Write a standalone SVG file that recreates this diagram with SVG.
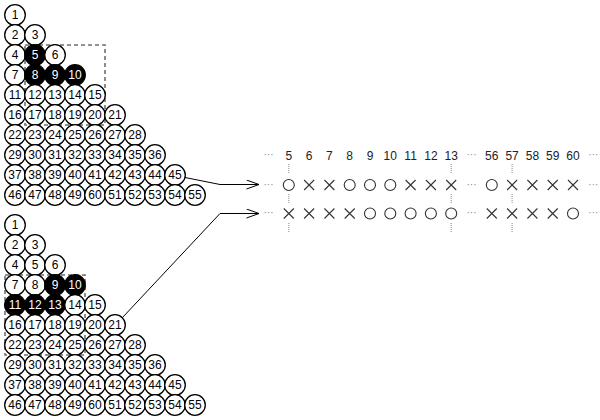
<svg xmlns="http://www.w3.org/2000/svg" xmlns:xlink="http://www.w3.org/1999/xlink" width="600" height="420" viewBox="0 0 600 420">
<style>
.n circle{fill:#fff;stroke:#000;stroke-width:1.3}
.n text{fill:#000}
.b circle{fill:#000;stroke:#000;stroke-width:1.3}
.b text{fill:#fff}
text{font-family:"Liberation Sans",Arial,sans-serif;font-size:12px;text-anchor:middle}
.win{fill:none;stroke:#707070;stroke-width:1.6;stroke-dasharray:4 3}
.conn{fill:none;stroke:#000;stroke-width:1}
text.lab{font-size:12px;fill:#222}
text.ell{font-size:10px;fill:#888;stroke:none}
.sym use{fill:none;stroke:#333;stroke-width:1.1}
.dot{stroke:#888;stroke-width:1;stroke-dasharray:1 1}
</style>
<defs>
<marker id="ah" markerWidth="14" markerHeight="12" refX="13" refY="5" orient="auto" markerUnits="userSpaceOnUse">
<path d="M0.5,0.5 L13,5 L0.5,9.5" fill="none" stroke="#000" stroke-width="1"/>
</marker>
<path id="x" d="M-5,-5L5,5M5,-5L-5,5"/>
<circle id="o" r="5.5"/>
</defs>

<g id="windows">
<rect class="win" x="25" y="45" width="80" height="80"/>
<rect class="win" x="5" y="275" width="80" height="80"/>
</g>

<g id="triangleA">
<g id="a1" class="n"><circle cx="15" cy="15" r="10.3"/><text x="15" y="19.2">1</text></g>
<g id="a2" class="n"><circle cx="15" cy="35" r="10.3"/><text x="15" y="39.2">2</text></g>
<g id="a3" class="n"><circle cx="35" cy="35" r="10.3"/><text x="35" y="39.2">3</text></g>
<g id="a4" class="n"><circle cx="15" cy="55" r="10.3"/><text x="15" y="59.2">4</text></g>
<g id="a5" class="b"><circle cx="35" cy="55" r="10.3"/><text x="35" y="59.2">5</text></g>
<g id="a6" class="n"><circle cx="55" cy="55" r="10.3"/><text x="55" y="59.2">6</text></g>
<g id="a7" class="n"><circle cx="15" cy="75" r="10.3"/><text x="15" y="79.2">7</text></g>
<g id="a8" class="b"><circle cx="35" cy="75" r="10.3"/><text x="35" y="79.2">8</text></g>
<g id="a9" class="b"><circle cx="55" cy="75" r="10.3"/><text x="55" y="79.2">9</text></g>
<g id="a10" class="b"><circle cx="75" cy="75" r="10.3"/><text x="75" y="79.2">10</text></g>
<g id="a11" class="n"><circle cx="15" cy="95" r="10.3"/><text x="15" y="99.2">11</text></g>
<g id="a12" class="n"><circle cx="35" cy="95" r="10.3"/><text x="35" y="99.2">12</text></g>
<g id="a13" class="n"><circle cx="55" cy="95" r="10.3"/><text x="55" y="99.2">13</text></g>
<g id="a14" class="n"><circle cx="75" cy="95" r="10.3"/><text x="75" y="99.2">14</text></g>
<g id="a15" class="n"><circle cx="95" cy="95" r="10.3"/><text x="95" y="99.2">15</text></g>
<g id="a16" class="n"><circle cx="15" cy="115" r="10.3"/><text x="15" y="119.2">16</text></g>
<g id="a17" class="n"><circle cx="35" cy="115" r="10.3"/><text x="35" y="119.2">17</text></g>
<g id="a18" class="n"><circle cx="55" cy="115" r="10.3"/><text x="55" y="119.2">18</text></g>
<g id="a19" class="n"><circle cx="75" cy="115" r="10.3"/><text x="75" y="119.2">19</text></g>
<g id="a20" class="n"><circle cx="95" cy="115" r="10.3"/><text x="95" y="119.2">20</text></g>
<g id="a21" class="n"><circle cx="115" cy="115" r="10.3"/><text x="115" y="119.2">21</text></g>
<g id="a22" class="n"><circle cx="15" cy="135" r="10.3"/><text x="15" y="139.2">22</text></g>
<g id="a23" class="n"><circle cx="35" cy="135" r="10.3"/><text x="35" y="139.2">23</text></g>
<g id="a24" class="n"><circle cx="55" cy="135" r="10.3"/><text x="55" y="139.2">24</text></g>
<g id="a25" class="n"><circle cx="75" cy="135" r="10.3"/><text x="75" y="139.2">25</text></g>
<g id="a26" class="n"><circle cx="95" cy="135" r="10.3"/><text x="95" y="139.2">26</text></g>
<g id="a27" class="n"><circle cx="115" cy="135" r="10.3"/><text x="115" y="139.2">27</text></g>
<g id="a28" class="n"><circle cx="135" cy="135" r="10.3"/><text x="135" y="139.2">28</text></g>
<g id="a29" class="n"><circle cx="15" cy="155" r="10.3"/><text x="15" y="159.2">29</text></g>
<g id="a30" class="n"><circle cx="35" cy="155" r="10.3"/><text x="35" y="159.2">30</text></g>
<g id="a31" class="n"><circle cx="55" cy="155" r="10.3"/><text x="55" y="159.2">31</text></g>
<g id="a32" class="n"><circle cx="75" cy="155" r="10.3"/><text x="75" y="159.2">32</text></g>
<g id="a33" class="n"><circle cx="95" cy="155" r="10.3"/><text x="95" y="159.2">33</text></g>
<g id="a34" class="n"><circle cx="115" cy="155" r="10.3"/><text x="115" y="159.2">34</text></g>
<g id="a35" class="n"><circle cx="135" cy="155" r="10.3"/><text x="135" y="159.2">35</text></g>
<g id="a36" class="n"><circle cx="155" cy="155" r="10.3"/><text x="155" y="159.2">36</text></g>
<g id="a37" class="n"><circle cx="15" cy="175" r="10.3"/><text x="15" y="179.2">37</text></g>
<g id="a38" class="n"><circle cx="35" cy="175" r="10.3"/><text x="35" y="179.2">38</text></g>
<g id="a39" class="n"><circle cx="55" cy="175" r="10.3"/><text x="55" y="179.2">39</text></g>
<g id="a40" class="n"><circle cx="75" cy="175" r="10.3"/><text x="75" y="179.2">40</text></g>
<g id="a41" class="n"><circle cx="95" cy="175" r="10.3"/><text x="95" y="179.2">41</text></g>
<g id="a42" class="n"><circle cx="115" cy="175" r="10.3"/><text x="115" y="179.2">42</text></g>
<g id="a43" class="n"><circle cx="135" cy="175" r="10.3"/><text x="135" y="179.2">43</text></g>
<g id="a44" class="n"><circle cx="155" cy="175" r="10.3"/><text x="155" y="179.2">44</text></g>
<g id="a45" class="n"><circle cx="175" cy="175" r="10.3"/><text x="175" y="179.2">45</text></g>
<g id="a46" class="n"><circle cx="15" cy="195" r="10.3"/><text x="15" y="199.2">46</text></g>
<g id="a47" class="n"><circle cx="35" cy="195" r="10.3"/><text x="35" y="199.2">47</text></g>
<g id="a48" class="n"><circle cx="55" cy="195" r="10.3"/><text x="55" y="199.2">48</text></g>
<g id="a49" class="n"><circle cx="75" cy="195" r="10.3"/><text x="75" y="199.2">49</text></g>
<g id="a50" class="n"><circle cx="95" cy="195" r="10.3"/><text x="95" y="199.2">60</text></g>
<g id="a51" class="n"><circle cx="115" cy="195" r="10.3"/><text x="115" y="199.2">51</text></g>
<g id="a52" class="n"><circle cx="135" cy="195" r="10.3"/><text x="135" y="199.2">52</text></g>
<g id="a53" class="n"><circle cx="155" cy="195" r="10.3"/><text x="155" y="199.2">53</text></g>
<g id="a54" class="n"><circle cx="175" cy="195" r="10.3"/><text x="175" y="199.2">54</text></g>
<g id="a55" class="n"><circle cx="195" cy="195" r="10.3"/><text x="195" y="199.2">55</text></g>
</g>

<g id="triangleB">
<g id="b1" class="n"><circle cx="15" cy="225" r="10.3"/><text x="15" y="229.2">1</text></g>
<g id="b2" class="n"><circle cx="15" cy="245" r="10.3"/><text x="15" y="249.2">2</text></g>
<g id="b3" class="n"><circle cx="35" cy="245" r="10.3"/><text x="35" y="249.2">3</text></g>
<g id="b4" class="n"><circle cx="15" cy="265" r="10.3"/><text x="15" y="269.2">4</text></g>
<g id="b5" class="n"><circle cx="35" cy="265" r="10.3"/><text x="35" y="269.2">5</text></g>
<g id="b6" class="n"><circle cx="55" cy="265" r="10.3"/><text x="55" y="269.2">6</text></g>
<g id="b7" class="n"><circle cx="15" cy="285" r="10.3"/><text x="15" y="289.2">7</text></g>
<g id="b8" class="n"><circle cx="35" cy="285" r="10.3"/><text x="35" y="289.2">8</text></g>
<g id="b9" class="b"><circle cx="55" cy="285" r="10.3"/><text x="55" y="289.2">9</text></g>
<g id="b10" class="b"><circle cx="75" cy="285" r="10.3"/><text x="75" y="289.2">10</text></g>
<g id="b11" class="b"><circle cx="15" cy="305" r="10.3"/><text x="15" y="309.2">11</text></g>
<g id="b12" class="b"><circle cx="35" cy="305" r="10.3"/><text x="35" y="309.2">12</text></g>
<g id="b13" class="b"><circle cx="55" cy="305" r="10.3"/><text x="55" y="309.2">13</text></g>
<g id="b14" class="n"><circle cx="75" cy="305" r="10.3"/><text x="75" y="309.2">14</text></g>
<g id="b15" class="n"><circle cx="95" cy="305" r="10.3"/><text x="95" y="309.2">15</text></g>
<g id="b16" class="n"><circle cx="15" cy="325" r="10.3"/><text x="15" y="329.2">16</text></g>
<g id="b17" class="n"><circle cx="35" cy="325" r="10.3"/><text x="35" y="329.2">17</text></g>
<g id="b18" class="n"><circle cx="55" cy="325" r="10.3"/><text x="55" y="329.2">18</text></g>
<g id="b19" class="n"><circle cx="75" cy="325" r="10.3"/><text x="75" y="329.2">19</text></g>
<g id="b20" class="n"><circle cx="95" cy="325" r="10.3"/><text x="95" y="329.2">20</text></g>
<g id="b21" class="n"><circle cx="115" cy="325" r="10.3"/><text x="115" y="329.2">21</text></g>
<g id="b22" class="n"><circle cx="15" cy="345" r="10.3"/><text x="15" y="349.2">22</text></g>
<g id="b23" class="n"><circle cx="35" cy="345" r="10.3"/><text x="35" y="349.2">23</text></g>
<g id="b24" class="n"><circle cx="55" cy="345" r="10.3"/><text x="55" y="349.2">24</text></g>
<g id="b25" class="n"><circle cx="75" cy="345" r="10.3"/><text x="75" y="349.2">25</text></g>
<g id="b26" class="n"><circle cx="95" cy="345" r="10.3"/><text x="95" y="349.2">26</text></g>
<g id="b27" class="n"><circle cx="115" cy="345" r="10.3"/><text x="115" y="349.2">27</text></g>
<g id="b28" class="n"><circle cx="135" cy="345" r="10.3"/><text x="135" y="349.2">28</text></g>
<g id="b29" class="n"><circle cx="15" cy="365" r="10.3"/><text x="15" y="369.2">29</text></g>
<g id="b30" class="n"><circle cx="35" cy="365" r="10.3"/><text x="35" y="369.2">30</text></g>
<g id="b31" class="n"><circle cx="55" cy="365" r="10.3"/><text x="55" y="369.2">31</text></g>
<g id="b32" class="n"><circle cx="75" cy="365" r="10.3"/><text x="75" y="369.2">32</text></g>
<g id="b33" class="n"><circle cx="95" cy="365" r="10.3"/><text x="95" y="369.2">33</text></g>
<g id="b34" class="n"><circle cx="115" cy="365" r="10.3"/><text x="115" y="369.2">34</text></g>
<g id="b35" class="n"><circle cx="135" cy="365" r="10.3"/><text x="135" y="369.2">35</text></g>
<g id="b36" class="n"><circle cx="155" cy="365" r="10.3"/><text x="155" y="369.2">36</text></g>
<g id="b37" class="n"><circle cx="15" cy="385" r="10.3"/><text x="15" y="389.2">37</text></g>
<g id="b38" class="n"><circle cx="35" cy="385" r="10.3"/><text x="35" y="389.2">38</text></g>
<g id="b39" class="n"><circle cx="55" cy="385" r="10.3"/><text x="55" y="389.2">39</text></g>
<g id="b40" class="n"><circle cx="75" cy="385" r="10.3"/><text x="75" y="389.2">40</text></g>
<g id="b41" class="n"><circle cx="95" cy="385" r="10.3"/><text x="95" y="389.2">41</text></g>
<g id="b42" class="n"><circle cx="115" cy="385" r="10.3"/><text x="115" y="389.2">42</text></g>
<g id="b43" class="n"><circle cx="135" cy="385" r="10.3"/><text x="135" y="389.2">43</text></g>
<g id="b44" class="n"><circle cx="155" cy="385" r="10.3"/><text x="155" y="389.2">44</text></g>
<g id="b45" class="n"><circle cx="175" cy="385" r="10.3"/><text x="175" y="389.2">45</text></g>
<g id="b46" class="n"><circle cx="15" cy="405" r="10.3"/><text x="15" y="409.2">46</text></g>
<g id="b47" class="n"><circle cx="35" cy="405" r="10.3"/><text x="35" y="409.2">47</text></g>
<g id="b48" class="n"><circle cx="55" cy="405" r="10.3"/><text x="55" y="409.2">48</text></g>
<g id="b49" class="n"><circle cx="75" cy="405" r="10.3"/><text x="75" y="409.2">49</text></g>
<g id="b50" class="n"><circle cx="95" cy="405" r="10.3"/><text x="95" y="409.2">60</text></g>
<g id="b51" class="n"><circle cx="115" cy="405" r="10.3"/><text x="115" y="409.2">51</text></g>
<g id="b52" class="n"><circle cx="135" cy="405" r="10.3"/><text x="135" y="409.2">52</text></g>
<g id="b53" class="n"><circle cx="155" cy="405" r="10.3"/><text x="155" y="409.2">53</text></g>
<g id="b54" class="n"><circle cx="175" cy="405" r="10.3"/><text x="175" y="409.2">54</text></g>
<g id="b55" class="n"><circle cx="195" cy="405" r="10.3"/><text x="195" y="409.2">55</text></g>
</g>

<g id="connectors">
<polyline class="conn" points="185,177.5 220,184.5 259,184.5" marker-end="url(#ah)"/>
<polyline class="conn" points="122.5,317.5 220,213.5 259,213.5" marker-end="url(#ah)"/>
</g>

<g id="sequence">
<g id="header">
<text class="ell" x="268.5" y="157.5">···</text>
<text class="lab" x="288.8" y="159.5">5</text>
<text class="lab" x="309.1" y="159.5">6</text>
<text class="lab" x="329.4" y="159.5">7</text>
<text class="lab" x="349.7" y="159.5">8</text>
<text class="lab" x="370" y="159.5">9</text>
<text class="lab" x="390.3" y="159.5">10</text>
<text class="lab" x="410.6" y="159.5">11</text>
<text class="lab" x="430.9" y="159.5">12</text>
<text class="lab" x="451.2" y="159.5">13</text>
<text class="ell" x="471.5" y="157.5">···</text>
<text class="lab" x="491.8" y="159.5">56</text>
<text class="lab" x="512.1" y="159.5">57</text>
<text class="lab" x="532.4" y="159.5">58</text>
<text class="lab" x="552.7" y="159.5">59</text>
<text class="lab" x="573" y="159.5">60</text>
<text class="ell" x="593.3" y="157.5">···</text>
</g>
<g id="dotted">
<line class="dot" x1="288.8" y1="164" x2="288.8" y2="174"/>
<line class="dot" x1="288.8" y1="194" x2="288.8" y2="204"/>
<line class="dot" x1="288.8" y1="223" x2="288.8" y2="233"/>
<line class="dot" x1="451.2" y1="164" x2="451.2" y2="174"/>
<line class="dot" x1="451.2" y1="194" x2="451.2" y2="204"/>
<line class="dot" x1="451.2" y1="223" x2="451.2" y2="233"/>
<line class="dot" x1="512.1" y1="164" x2="512.1" y2="174"/>
<line class="dot" x1="512.1" y1="194" x2="512.1" y2="204"/>
<line class="dot" x1="512.1" y1="223" x2="512.1" y2="233"/>
</g>
<g id="row1" class="sym">
<text class="ell" x="268.5" y="187.5">···</text>
<use href="#o" x="288.8" y="185"/>
<use href="#x" x="309.1" y="185"/>
<use href="#x" x="329.4" y="185"/>
<use href="#o" x="349.7" y="185"/>
<use href="#o" x="370" y="185"/>
<use href="#o" x="390.3" y="185"/>
<use href="#x" x="410.6" y="185"/>
<use href="#x" x="430.9" y="185"/>
<use href="#x" x="451.2" y="185"/>
<text class="ell" x="471.5" y="187.5">···</text>
<use href="#o" x="491.8" y="185"/>
<use href="#x" x="512.1" y="185"/>
<use href="#x" x="532.4" y="185"/>
<use href="#x" x="552.7" y="185"/>
<use href="#x" x="573" y="185"/>
<text class="ell" x="593.3" y="187.5">···</text>
</g>
<g id="row2" class="sym">
<text class="ell" x="268.5" y="216">···</text>
<use href="#x" x="288.8" y="213.5"/>
<use href="#x" x="309.1" y="213.5"/>
<use href="#x" x="329.4" y="213.5"/>
<use href="#x" x="349.7" y="213.5"/>
<use href="#o" x="370" y="213.5"/>
<use href="#o" x="390.3" y="213.5"/>
<use href="#o" x="410.6" y="213.5"/>
<use href="#o" x="430.9" y="213.5"/>
<use href="#o" x="451.2" y="213.5"/>
<text class="ell" x="471.5" y="216">···</text>
<use href="#x" x="491.8" y="213.5"/>
<use href="#x" x="512.1" y="213.5"/>
<use href="#x" x="532.4" y="213.5"/>
<use href="#x" x="552.7" y="213.5"/>
<use href="#o" x="573" y="213.5"/>
<text class="ell" x="593.3" y="216">···</text>
</g>
</g>
</svg>
